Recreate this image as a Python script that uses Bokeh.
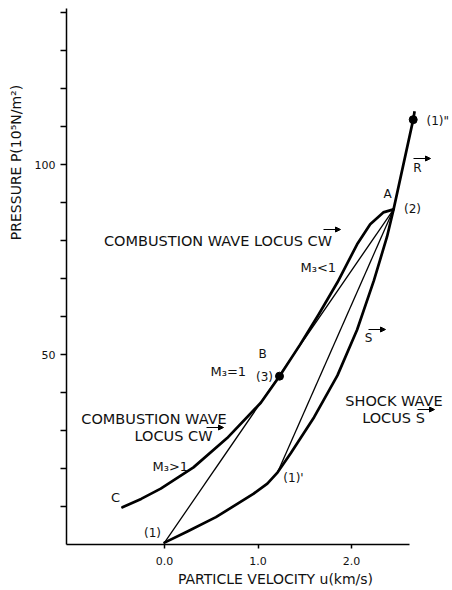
import math
from bokeh.plotting import figure
from bokeh.models import Range1d, FixedTicker, Label, Arrow, NormalHead
from bokeh.embed import file_html
from bokeh.resources import INLINE

# ---------------- data ----------------
# combustion wave locus CW: from C through B (3) up to A / (2)
cw_u = [-0.45, -0.25, -0.04, 0.31, 0.67, 1.03, 1.23, 1.45, 1.65, 1.85, 2.06, 2.20, 2.34, 2.45]
cw_p = [9.8, 12.0, 14.7, 20.3, 28.0, 37.3, 44.3, 52.6, 60.6, 69.0, 79.0, 84.3, 87.4, 88.2]

# shock wave locus S: from (1) through (1)' up to (2)
shock_u = [0.0, 0.25, 0.55, 0.95, 1.10, 1.21, 1.35, 1.60, 1.85, 2.06, 2.24, 2.38, 2.45]
shock_p = [0.5, 3.5, 7.2, 13.3, 16.0, 19.0, 24.0, 33.5, 44.5, 56.5, 69.5, 81.0, 88.2]

# reflected branch R from (2) to (1)"
r_u = [2.45, 2.66, 2.675]
r_p = [88.2, 111.8, 114.0]

# straight lines
ray1_u = [0.0, 2.45]    # (1) -> B -> (2)
ray1_p = [0.5, 88.2]
ray2_u = [1.21, 2.45]   # (1)' -> (2)
ray2_p = [19.0, 88.2]

# marked points B(3) and (1)"
pt_u = [1.23, 2.66]
pt_p = [44.3, 111.8]

x_ticks = [0, 1, 2]
x_tick_labels = ["0.0", "1.0", "2.0"]
y_ticks = [50, 100]
y_tick_labels = ["50", "100"]
y_minor_ticks = [10, 20, 30, 40, 60, 70, 80, 90, 110, 120, 130, 140]

# ---------------- figure ----------------
FONT = "DejaVu Sans"
INK = "#111111"
W, H = 452, 590

def U(px):
    return (px - 164) / 93.5

def P(py):
    return (544 - py) / 3.8

p = figure(width=W, height=H, output_backend="svg", toolbar_location=None,
           x_range=Range1d(U(0), U(W)), y_range=Range1d(P(H), P(0)),
           min_border=0, min_border_left=0, min_border_right=0,
           min_border_top=0, min_border_bottom=0)
p.outline_line_color = None
p.grid.visible = False
p.background_fill_color = "white"
p.border_fill_color = "white"

for ax in (p.xaxis[0], p.yaxis[0]):
    ax.axis_line_width = 1.5
    ax.axis_line_color = "black"
    ax.major_tick_line_color = "black"
    ax.major_tick_line_width = 1.5
    ax.major_tick_in = 0
    ax.major_label_text_font = FONT
    ax.major_label_text_font_size = "11px"
    ax.major_label_text_color = INK

p.xaxis.fixed_location = 0
p.xaxis.bounds = (U(66), 2.62)
p.xaxis.ticker = FixedTicker(ticks=x_ticks)
p.xaxis.major_label_overrides = dict(zip(x_ticks, x_tick_labels))
p.xaxis.major_tick_out = 4
p.xaxis.major_label_standoff = 8
p.xaxis.minor_tick_line_color = None

p.yaxis.fixed_location = U(66)
p.yaxis.bounds = (0, 141)
p.yaxis.ticker = FixedTicker(ticks=y_ticks, minor_ticks=y_minor_ticks)
p.yaxis.major_label_overrides = dict(zip(y_ticks, y_tick_labels))
p.yaxis.major_tick_out = 6
p.yaxis.minor_tick_out = 6
p.yaxis.minor_tick_in = 0
p.yaxis.minor_tick_line_color = "black"
p.yaxis.minor_tick_line_width = 1.5
p.yaxis.major_label_standoff = 5

# ---------------- curves ----------------
p.line(cw_u, cw_p, line_width=2.7, line_color="black", line_join="round", line_cap="round")
p.line(shock_u, shock_p, line_width=2.7, line_color="black", line_join="round", line_cap="round")
p.line(r_u, r_p, line_width=2.7, line_color="black", line_join="round")
p.line(ray1_u, ray1_p, line_width=1.3, line_color="black")
p.line(ray2_u, ray2_p, line_width=1.3, line_color="black")
p.scatter(pt_u, pt_p, size=8, fill_color="black", line_color="black")

# ---------------- text ----------------
def lab(text, px, py, size="14.5px", align="center", baseline="middle", angle=0):
    p.add_layout(Label(x=U(px), y=P(py), text=text, text_font=FONT, text_font_size=size,
                       text_color=INK, text_align=align, text_baseline=baseline, angle=angle))

def arrow(x0, x1, py):
    p.add_layout(Arrow(end=NormalHead(size=5, fill_color="black", line_color="black", line_width=1),
                       x_start=U(x0), y_start=P(py), x_end=U(x1), y_end=P(py),
                       line_width=1.2, line_color="black"))

lab("PRESSURE P(10⁵N/m²)", 15, 162, size="14px", angle=math.pi / 2)
lab("PARTICLE VELOCITY u(km/s)", 275, 578, size="14px")

lab("COMBUSTION WAVE LOCUS CW", 217.5, 240)
arrow(323, 340, 229)
lab("M₃<1", 300, 267, size="13px", align="left", baseline="alphabetic")
lab("A", 387, 193, size="12px")
lab("(2)", 412, 208, size="12px")
lab("R", 417, 167, size="12px")
arrow(413, 430, 158)
lab('(1)"', 426, 120, size="12px", align="left")
lab("B", 262, 353, size="12px")
lab("M₃=1", 210, 371, size="13px", align="left", baseline="alphabetic")
lab("(3)", 264, 376, size="12px")
lab("COMBUSTION WAVE", 153.5, 418)
lab("LOCUS CW", 173, 435)
arrow(206, 223, 427)
lab("M₃>1", 152, 466, size="13px", align="left", baseline="alphabetic")
lab("C", 115, 497, size="13px")
lab("(1)", 152, 532, size="12px")
lab("(1)'", 293, 477, size="12px")
lab("S", 368, 337, size="12px")
arrow(368, 385, 329)
lab("SHOCK WAVE", 393.5, 400)
lab("LOCUS S", 393, 417)
arrow(417, 434, 409)

open("out.html", "w").write(file_html(p, INLINE))
